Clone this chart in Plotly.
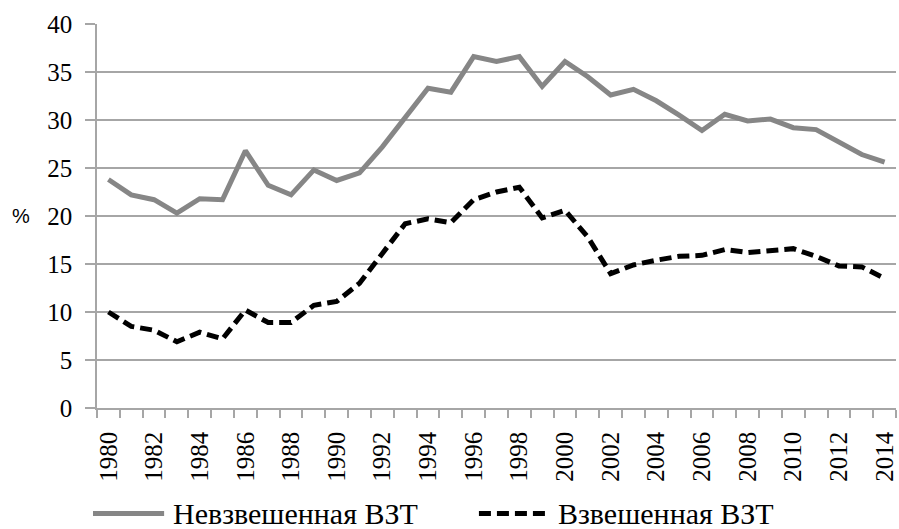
import plotly.graph_objects as go

years = list(range(1980, 2015))
unweighted_name = "Невзвешенная ВЗТ"
weighted_name = "Взвешенная ВЗТ"
unweighted = [23.8, 22.2, 21.7, 20.3, 21.8, 21.7, 26.8, 23.2, 22.2, 24.8,
              23.7, 24.5, 27.2, 30.3, 33.3, 32.9, 36.6, 36.1, 36.6, 33.5,
              36.1, 34.5, 32.6, 33.2, 32.0, 30.5, 28.9, 30.6, 29.9, 30.1,
              29.2, 29.0, 27.7, 26.4, 25.6]
weighted = [10.0, 8.5, 8.1, 6.9, 7.9, 7.2, 10.2, 8.9, 8.9, 10.7,
            11.1, 13.0, 16.1, 19.2, 19.7, 19.3, 21.7, 22.5, 23.0, 19.8,
            20.6, 17.8, 14.0, 14.9, 15.4, 15.8, 15.9, 16.5, 16.2, 16.45,
            16.6, 15.8, 14.8, 14.7, 13.5]
x_tick_years = list(range(1980, 2015, 2))
y_ticks = [0, 5, 10, 15, 20, 25, 30, 35, 40]

FONT = "Liberation Serif, Times New Roman, serif"
GRAY = "#868686"
GRID = "#a6a6a6"

fig = go.Figure()
fig.add_trace(go.Scatter(x=years, y=unweighted, mode="lines", name=unweighted_name,
                         line=dict(color=GRAY, width=5), showlegend=False))
fig.add_trace(go.Scatter(x=years, y=weighted, mode="lines", name=weighted_name,
                         line=dict(color="black", width=5, dash="12px,6px"), showlegend=False))

fig.update_xaxes(
    range=[years[0] - 0.5, years[-1] + 0.5],
    tickmode="array", tickvals=x_tick_years, ticktext=[str(y) for y in x_tick_years],
    tickangle=-90, ticks="", showgrid=False,
    showline=True, linecolor=GRID, linewidth=1.5,
    tickfont=dict(family=FONT, size=25, color="black"),
    ticklabelstandoff=12, ticklabeloverflow="allow",
    minor=dict(tick0=years[0] - 0.5, dtick=1, ticks="outside", ticklen=8,
               tickcolor=GRID, tickwidth=1.5, showgrid=False),
    zeroline=False,
)
fig.update_yaxes(
    range=[0, 40], tickmode="array", tickvals=y_ticks,
    ticks="outside", ticklen=10, tickcolor=GRID, tickwidth=1.5,
    showgrid=True, gridcolor=GRID, gridwidth=1.5,
    showline=True, linecolor=GRID, linewidth=1.5,
    tickfont=dict(family=FONT, size=25, color="black"),
    ticklabelstandoff=8,
    zeroline=False,
)

fig.add_annotation(text="%", xref="paper", yref="y", x=-0.095, y=20, xanchor="center",
                   showarrow=False, font=dict(family="Liberation Sans, Arial", size=20, color="black"))

# custom legend
leg_y = -0.275
fig.add_shape(type="line", xref="paper", yref="paper", x0=-0.005, x1=0.084, y0=leg_y, y1=leg_y,
              line=dict(color=GRAY, width=5))
fig.add_annotation(text=unweighted_name, xref="paper", yref="paper", x=0.093, y=leg_y,
                   xanchor="left", yanchor="middle", showarrow=False,
                   font=dict(family=FONT, size=30, color="black"))
fig.add_shape(type="line", xref="paper", yref="paper", x0=0.478, x1=0.566, y0=leg_y, y1=leg_y,
              line=dict(color="black", width=5, dash="12px,6px"))
fig.add_annotation(text=weighted_name, xref="paper", yref="paper", x=0.574, y=leg_y,
                   xanchor="left", yanchor="middle", showarrow=False,
                   font=dict(family=FONT, size=30, color="black"))

fig.update_layout(
    width=899, height=529,
    margin=dict(l=97, r=1, t=24, b=121),
    plot_bgcolor="white", paper_bgcolor="white",
    showlegend=False,
)
fig.write_html("out.html", config={"displayModeBar": False},
               post_script="document.body.style.margin='0';document.body.style.overflow='hidden';")
